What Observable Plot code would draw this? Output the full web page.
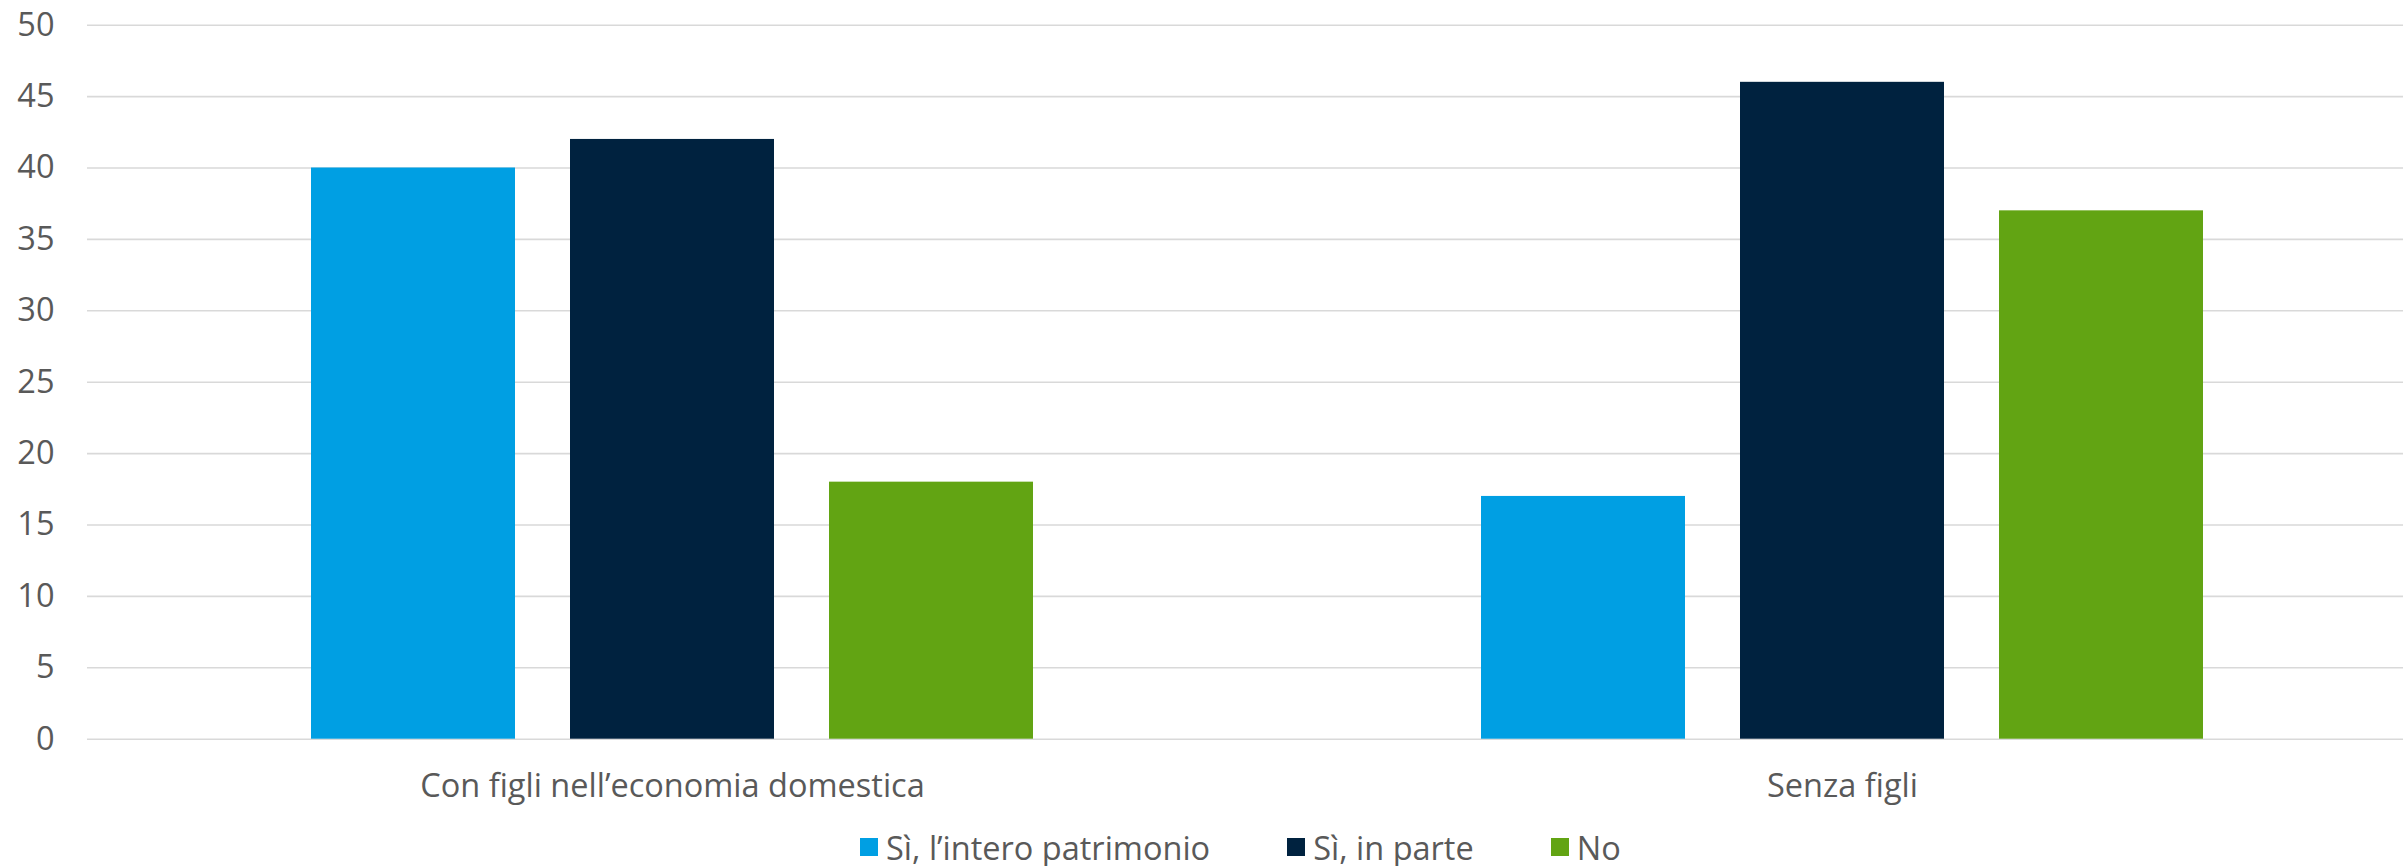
<!DOCTYPE html>
<html>
<head>
<meta charset="utf-8">
<script src="https://cdn.jsdelivr.net/npm/d3@7"></script>
<script src="https://cdn.jsdelivr.net/npm/@observablehq/plot@0.6"></script>
<style>
html, body { margin: 0; padding: 0; background: #fff; overflow: hidden; }
#legend .lg-swatch { margin-right: 77px !important; }
#legend .lg-swatch > svg { margin-right: 8px !important; }
</style>
</head>
<body>
<div id="chart"></div>
<div id="legend"></div>
<script>
const groups = ["Con figli nell’economia domestica", "Senza figli"];
const series = ["Sì, l’intero patrimonio", "Sì, in parte", "No"];
const colors = ["#009FE3", "#00223F", "#62A413"];
const valuesConFigli = [40, 42, 18];
const valuesSenzaFigli = [17, 46, 37];
const yTicks = [0, 5, 10, 15, 20, 25, 30, 35, 40, 45, 50];

const groupValues = [valuesConFigli, valuesSenzaFigli];
const data = groups.flatMap((g, gi) =>
  series.map((s, si) => ({group: g, series: s, value: groupValues[gi][si]}))
);

const font = "'Open Sans', 'Noto Sans', sans-serif";

const chart = Plot.plot({
  width: 2403,
  height: 815,
  marginLeft: 86,
  marginRight: -24,
  marginTop: 24.7,
  marginBottom: 76.3,
  style: {fontFamily: font, fontSize: "32.5px", color: "#595959", background: "#fff", overflow: "visible"},
  fx: {domain: groups, padding: 0, label: null},
  x: {domain: series, axis: null, paddingInner: 0.214, paddingOuter: 0.8625},
  y: {domain: [0, 50], label: null},
  color: {domain: series, range: colors},
  marks: [
    Plot.gridY(yTicks, {stroke: "#d9d9d9", strokeOpacity: 1, strokeWidth: 1.6}),
    Plot.axisY(yTicks, {tickSize: 0, tickPadding: 33, label: null, fontSize: 32.5}),
    Plot.axisFx({anchor: "bottom", tickSize: 0, tickPadding: 35, label: null, fontSize: 32.5}),
    Plot.barY(data, {fx: "group", x: "series", y: "value", fill: "series"})
  ]
});
document.getElementById("chart").appendChild(chart);

const legend = Plot.legend({
  color: {domain: series, range: colors, type: "ordinal"},
  swatchSize: 18,
  className: "lg"
});
legend.style.fontFamily = font;
legend.style.fontSize = "32.5px";
legend.style.color = "#595959";
legend.style.height = "64px";
legend.style.minHeight = "0";
legend.style.margin = "0";
legend.style.paddingLeft = "860px";
legend.style.justifyContent = "flex-start";
legend.style.flexWrap = "nowrap";
document.getElementById("legend").appendChild(legend);
</script>
</body>
</html>
